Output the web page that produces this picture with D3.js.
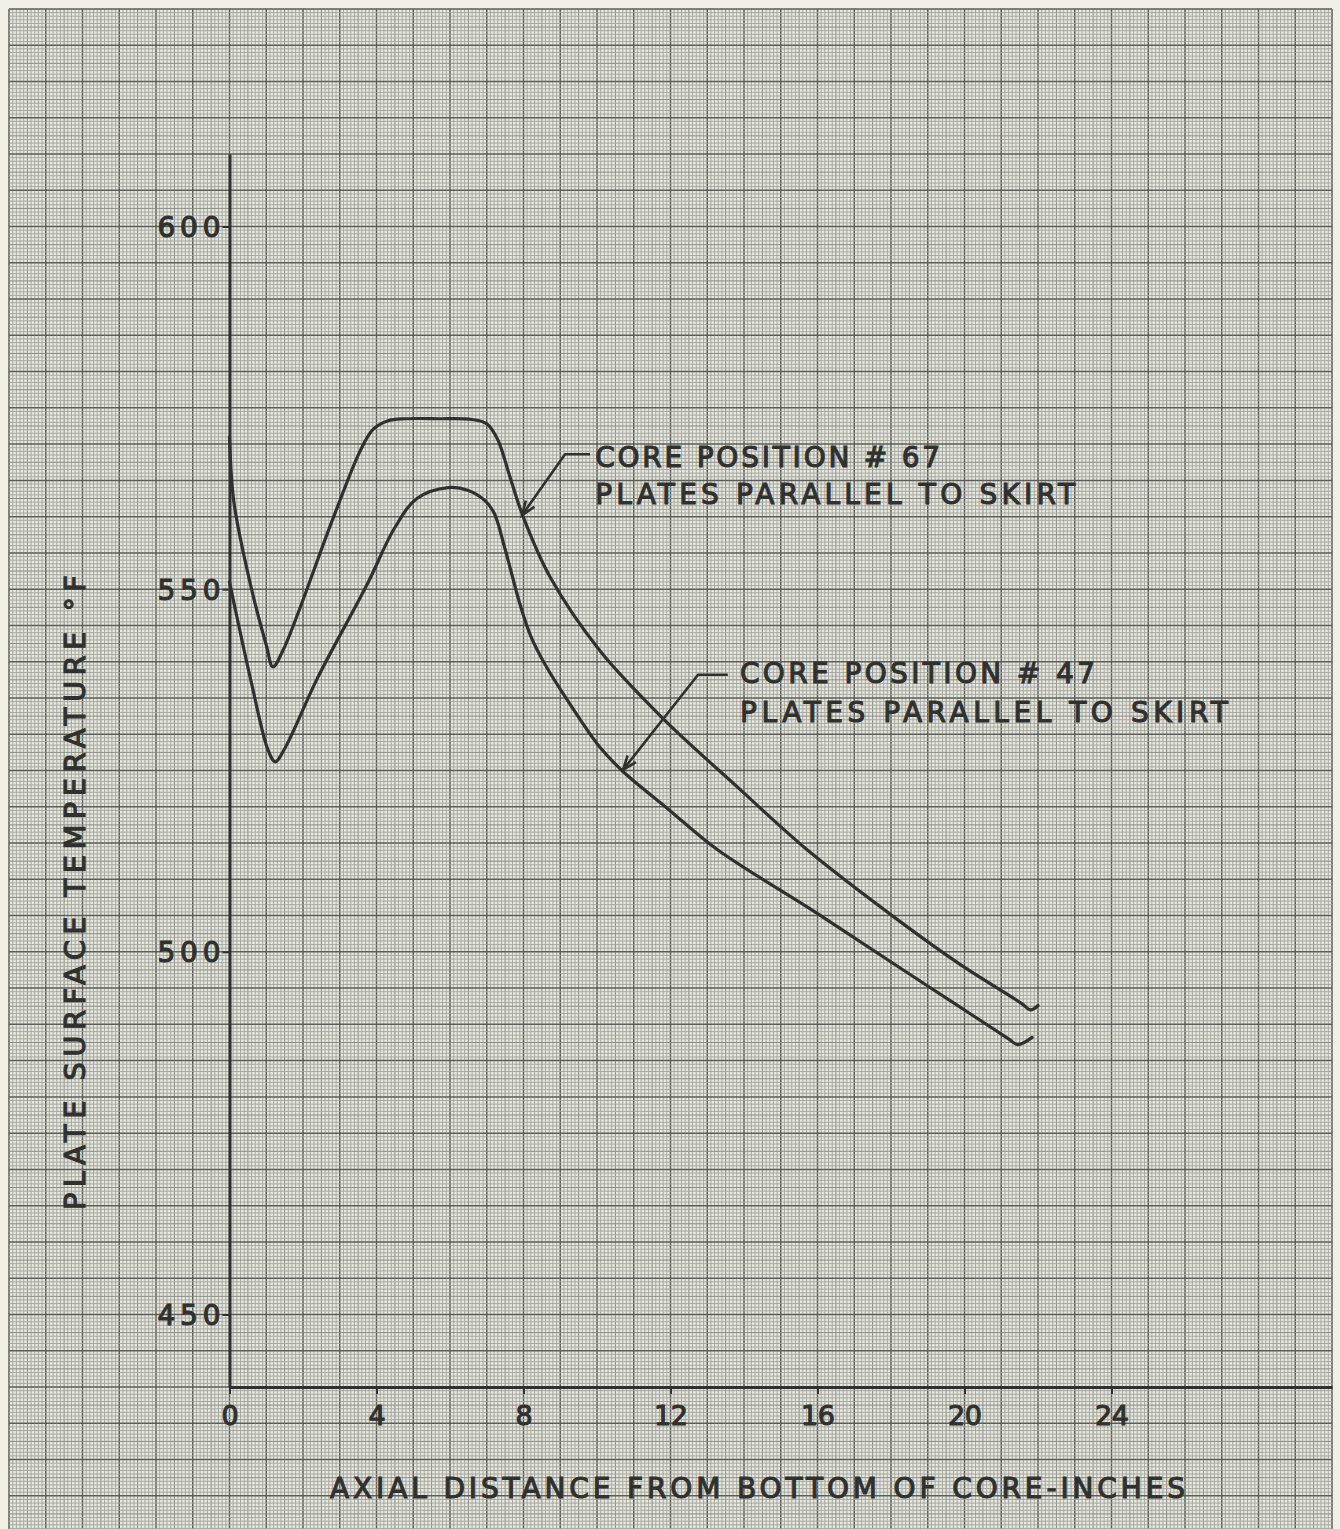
<!DOCTYPE html>
<html>
<head>
<meta charset="utf-8">
<title>Plate surface temperature</title>
<style>
  body { margin: 0; background: #f1f0e6; }
  svg { display: block; }
  .lbl { font-family: "DejaVu Sans", sans-serif; fill: #30312e; stroke: #30312e; stroke-width: 1.1px; }
</style>
</head>
<body>
<svg id="chart"></svg>
<script src="https://d3js.org/d3.v7.min.js"></script>
<script>

// core position #67 (upper curve)
var dist67 = [0, 0.12, 0.6, 1.0, 1.18, 1.45, 2.82, 3.55, 3.9, 4.3, 4.8, 5.7, 6.6, 7.0, 7.3, 7.63, 7.99, 8.72, 10.08, 11.77, 13.89, 15.71, 18.24, 19.9, 21.55, 21.8, 22.0];
var temp67 = [571, 562, 550, 542.3, 539.3, 541.5, 559.8, 569, 572, 573.2, 573.5, 573.5, 573.4, 572.8, 570.6, 565.5, 560, 551.7, 541.5, 532.3, 522.4, 514.1, 504.2, 498.2, 492.9, 492.0, 492.6];

// core position #47 (lower curve)
var dist47 = [0, 0.1, 0.6, 1.05, 1.24, 1.5, 2.4, 3.74, 4.5, 5.1, 5.95, 6.5, 6.95, 7.2, 7.5, 7.9, 8.2, 8.6, 9.18, 10.08, 10.7, 11.93, 13.27, 15.93, 18.24, 19.6, 21.2, 21.45, 21.84];
var temp47 = [551, 548.6, 537, 527.8, 526.2, 528, 537.8, 550.6, 558.5, 562.5, 564, 563.6, 562.2, 560.5, 555.5, 548, 543.5, 539.5, 534.8, 528.2, 524.9, 519.7, 514.1, 505.5, 497.8, 493.3, 488.0, 487.2, 488.2];

var xTicks = [0, 4, 8, 12, 16, 20, 24];
var yTicks = [450, 500, 550, 600];

var xTitle = "AXIAL  DISTANCE  FROM  BOTTOM  OF  CORE-INCHES";
var yTitle = "PLATE  SURFACE  TEMPERATURE   \u00B0F";

var notes = [
  {lines: ["CORE  POSITION # 67", "PLATES  PARALLEL  TO  SKIRT"], at: [9.95, 566.9, 561.7], widths: [345, 480],
   leader: [[9.81, 568.6], [9.13, 568.6], [7.96, 560.2]]},
  {lines: ["CORE   POSITION # 47", "PLATES  PARALLEL  TO  SKIRT"], at: [13.89, 537.0, 531.75], widths: [355, 488],
   leader: [[13.56, 538.2], [12.75, 538.2], [10.71, 525.1]]}
];

var width = 1340, height = 1529;
var ink = "#30312e";

var svg = d3.select("#chart")
            .attr("width", width)
            .attr("height", height);

// 1 inch = 36.75px, 5 deg = 36.27px
var x = d3.scaleLinear().domain([0, 30]).range([229.5, 1332]);
var y = d3.scaleLinear().domain([440, 610]).range([1387, 154]);

// graph paper
var paper = svg.append("g");
paper.append("rect")
     .attr("x", x(-6)).attr("y", y(630))
     .attr("width", x(30) - x(-6))
     .attr("height", height - y(630))
     .attr("fill", "#e6e7df");

var vx = d3.range(-60, 301).map(function(i){ return i / 10; });
var hy = d3.range(841, 1261).map(function(i){ return i / 2; });

function weight(i, major, mid){
  if (i % major == 0) return 2;
  if (i % mid == 0) return 1;
  return 0;
}
var gStroke = ["#a3a49c", "#8b8c85", "#5d5e59"];
var gWidth = [0.9, 1.0, 1.5];

paper.append("g").selectAll("line")
     .data(vx)
     .enter().append("line")
     .attr("x1", function(d){ return x(d); })
     .attr("x2", function(d){ return x(d); })
     .attr("y1", y(630)).attr("y2", height)
     .attr("stroke", function(d){ return gStroke[weight(Math.round(d * 10), 10, 5)]; })
     .attr("stroke-width", function(d){ return gWidth[weight(Math.round(d * 10), 10, 5)]; });

paper.append("g").selectAll("line")
     .data(hy)
     .enter().append("line")
     .attr("y1", function(d){ return y(d); })
     .attr("y2", function(d){ return y(d); })
     .attr("x1", x(-6)).attr("x2", x(30))
     .attr("stroke", function(d){ return gStroke[weight(Math.round(d * 2), 10, 5)]; })
     .attr("stroke-width", function(d){ return gWidth[weight(Math.round(d * 2), 10, 5)]; });

// axes
var yAxis = svg.append("g")
               .attr("transform", "translate(" + x(0) + ",0)")
               .call(d3.axisLeft(y).tickValues(yTicks).tickSize(7).tickSizeOuter(0).tickFormat(d3.format("d")));

var xAxis = svg.append("g")
               .attr("transform", "translate(0," + y(440) + ")")
               .call(d3.axisBottom(x).tickValues(xTicks).tickSize(7).tickSizeOuter(0).tickFormat(d3.format("d")));

svg.selectAll(".domain").attr("stroke", ink).attr("stroke-width", 3);
svg.selectAll(".tick line").attr("stroke", ink).attr("stroke-width", 2);

yAxis.selectAll("text")
     .attr("class", "lbl")
     .attr("font-size", 28)
     .attr("x", -9)
     .attr("dy", "0.36em")
     .attr("textLength", 63)
     .attr("lengthAdjust", "spacing");

xAxis.selectAll("text")
     .attr("class", "lbl")
     .attr("font-size", 27)
     .attr("y", 38)
     .attr("dy", 0)
     .attr("textLength", function(d){ return d < 10 ? 16 : 34; })
     .attr("lengthAdjust", "spacing");

// titles
svg.append("text")
   .attr("class", "lbl")
   .attr("x", 330).attr("y", 1498)
   .attr("font-size", 28)
   .attr("textLength", 855)
   .attr("lengthAdjust", "spacing")
   .text(xTitle);

svg.append("text")
   .attr("class", "lbl")
   .attr("transform", "translate(85,1210) rotate(-90)")
   .attr("font-size", 29)
   .attr("textLength", 635)
   .attr("lengthAdjust", "spacing")
   .text(yTitle);

// curves
var line = d3.line()
             .x(function(d){ return x(d[0]); })
             .y(function(d){ return y(d[1]); })
             .curve(d3.curveCatmullRom.alpha(0.5));

[[dist67, temp67], [dist47, temp47]].forEach(function(s){
  svg.append("path")
     .datum(d3.zip(s[0], s[1]))
     .attr("d", line)
     .attr("fill", "none")
     .attr("stroke", ink)
     .attr("stroke-width", 3.2)
     .attr("stroke-linejoin", "round")
     .attr("stroke-linecap", "round");
});

// annotations
notes.forEach(function(n){
  var pts = n.leader.map(function(p){ return [x(p[0]), y(p[1])]; });
  svg.append("path")
     .attr("d", d3.line()(pts))
     .attr("fill", "none")
     .attr("stroke", ink)
     .attr("stroke-width", 2.6)
     .attr("stroke-linejoin", "round");

  var a = pts[pts.length - 2], b = pts[pts.length - 1];
  var ang = Math.atan2(b[1] - a[1], b[0] - a[0]);
  var len = 15, spread = 0.36;
  var barbs = [
    [b[0] - len * Math.cos(ang - spread), b[1] - len * Math.sin(ang - spread)],
    b,
    [b[0] - len * Math.cos(ang + spread), b[1] - len * Math.sin(ang + spread)]
  ];
  svg.append("path")
     .attr("d", d3.line()(barbs))
     .attr("fill", "none")
     .attr("stroke", ink)
     .attr("stroke-width", 2.6)
     .attr("stroke-linejoin", "miter");

  n.lines.forEach(function(t, i){
    svg.append("text")
       .attr("class", "lbl")
       .attr("x", x(n.at[0]))
       .attr("y", y(n.at[i + 1]))
       .attr("font-size", 28)
       .attr("textLength", n.widths[i])
       .attr("lengthAdjust", "spacing")
       .text(t);
  });
});

</script>
</body>
</html>
